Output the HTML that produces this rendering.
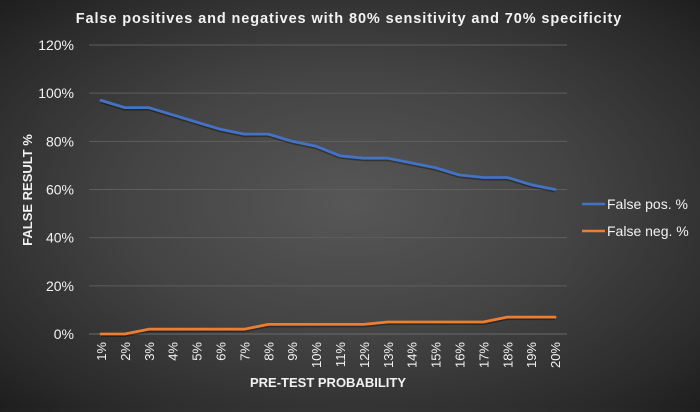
<!DOCTYPE html>
<html><head><meta charset="utf-8"><style>
html,body{margin:0;padding:0;}
body{width:700px;height:407px;overflow:hidden;background:radial-gradient(ellipse at 50% 50%,#575757 0%,#444 45%,#2a2a2a 85%,#1e1e1e 100%);font-family:"Liberation Sans",sans-serif;}
svg text{font-family:"Liberation Sans",sans-serif;fill:#f2f2f2;}
</style></head><body>
<svg id="chart" width="700" height="407" xmlns="http://www.w3.org/2000/svg">
<text x="349" y="23" text-anchor="middle" font-size="14.5" font-weight="bold" letter-spacing="0.9">False positives and negatives with 80% sensitivity and 70% specificity</text>
<g id="grid"></g><g id="ylabels"></g><g id="xlabels"></g><g id="series"></g>
<text transform="translate(32,190) rotate(-90)" text-anchor="middle" font-size="13" font-weight="bold">FALSE RESULT %</text>
<text x="328" y="387" text-anchor="middle" font-size="13" font-weight="bold">PRE-TEST PROBABILITY</text>
<g>
<line x1="582" y1="204" x2="605" y2="204" stroke="#4472c4" stroke-width="2.5"/>
<text x="607" y="209" font-size="14">False pos. %</text>
<line x1="582" y1="231" x2="605" y2="231" stroke="#ed7d31" stroke-width="2.5"/>
<text x="607" y="236" font-size="14">False neg. %</text>
</g>
</svg>
<script>
const categories=["1%","2%","3%","4%","5%","6%","7%","8%","9%","10%","11%","12%","13%","14%","15%","16%","17%","18%","19%","20%"];
const falsePos=[97,94,94,91,88,85,83,83,80,78,74,73,73,71,69,66,65,65,62,60];
const falseNeg=[0,0,2,2,2,2,2,4,4,4,4,4,5,5,5,5,5,7,7,7];
const yTicks=[0,20,40,60,80,100,120];
const NS="http://www.w3.org/2000/svg";
const L=89,R=567,T=45,B=334;
const bw=(R-L)/categories.length;
function xs(i){return L+bw*(i+0.5);}
function ys(v){return B-(v/120)*(B-T);}
function mk(tag,attrs,parent){const e=document.createElementNS(NS,tag);for(const k in attrs)e.setAttribute(k,attrs[k]);parent.appendChild(e);return e;}
const grid=document.getElementById('grid'),yl=document.getElementById('ylabels'),xl=document.getElementById('xlabels'),se=document.getElementById('series');
yTicks.forEach(t=>{
 const g=mk('line',{x1:L,x2:R,y1:ys(t),y2:ys(t),stroke:t===0?'#6a6a6a':'#5e5e5e','stroke-width':1},grid);
 
 
 const tx=mk('text',{x:74,y:ys(t)+5,'text-anchor':'end','font-size':14},yl);
 tx.textContent=t+'%';
 
 
});
categories.forEach((c,i)=>{
 const tx=mk('text',{transform:`translate(${xs(i)+5},342) rotate(-90)`,'text-anchor':'end','font-size':13},xl);
 tx.textContent=c;
 
 
});
function drawLine(vals,color,name){
 const pts=vals.map((v,i)=>xs(i).toFixed(1)+','+ys(v).toFixed(1)).join(' ');
 const sh=mk('polyline',{points:pts,fill:'none',stroke:'rgba(0,0,0,0.35)','stroke-width':3,transform:'translate(0,1.5)','stroke-linejoin':'round'},se);
 
 
 const p=mk('polyline',{points:pts,fill:'none',stroke:color,'stroke-width':2.8,'stroke-linejoin':'round','stroke-linecap':'round'},se);
 
 
}
drawLine(falsePos,'#4472c4','false-pos-line');
drawLine(falseNeg,'#ed7d31','false-neg-line');
</script>
</body></html>
